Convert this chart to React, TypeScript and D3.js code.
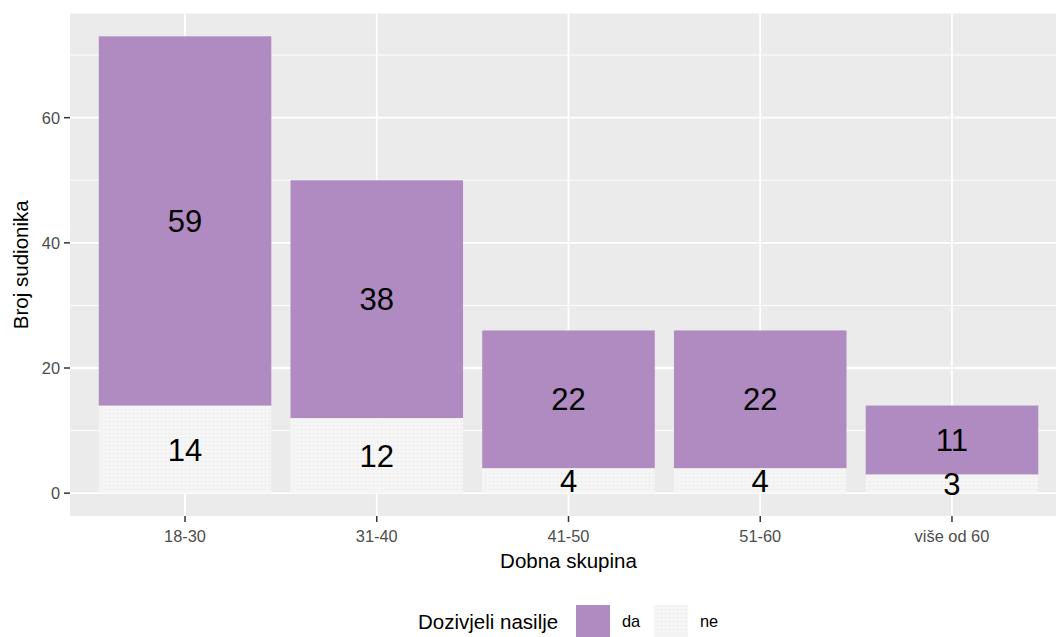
import React from "react";
import * as d3 from "d3";

const categories = ["18-30", "31-40", "41-50", "51-60", "više od 60"];
const daValues = [59, 38, 22, 22, 11];
const neValues = [14, 12, 4, 4, 3];
const yTicks = [0, 20, 40, 60];
const yMinor = [10, 30, 50, 70];
const legendTitle = "Dozivjeli nasilje";
const legendLabels = ["da", "ne"];
const xTitle = "Dobna skupina";
const yTitle = "Broj sudionika";

const W = 1056;
const H = 637;
const panel = { left: 70, right: 1067, top: 13.5, bottom: 516 };
const PURPLE = "#b08bc1";
const LIGHT = "#f5f5f5";
const FONT = "'Liberation Sans', Arial, sans-serif";

export default function App() {
  const totals = daValues.map((d, i) => d + neValues[i]);
  const maxT = d3.max(totals) as number;
  const pad = maxT * 0.05;
  const y = d3.scaleLinear().domain([-pad, maxT + pad]).range([panel.bottom, panel.top]);
  const step = (panel.right - panel.left) / (categories.length + 0.2);
  const xc = (i: number) => panel.left + step * (0.6 + i);
  const bw = step * 0.9;

  const stackData = categories.map((c, i) => ({ cat: c, ne: neValues[i], da: daValues[i] }));
  const series = d3.stack<any>().keys(["ne", "da"])(stackData);

  return (
    <div style={{ position: "absolute", left: 0, top: 0 }}>
      <svg width={W} height={H} style={{ display: "block", fontFamily: FONT }}>
        <defs>
          <pattern id="dots" width="4" height="4" patternUnits="userSpaceOnUse">
            <rect width="4" height="4" fill={LIGHT} />
            <rect x="1" y="1" width="1" height="1" fill="#e4e4e4" />
          </pattern>
        </defs>
        <rect x={0} y={0} width={W} height={H} fill="#fff" />
        <rect x={panel.left} y={panel.top} width={panel.right - panel.left} height={panel.bottom - panel.top} fill="#ebebeb" />
        {yMinor.map((t) => (
          <line key={"mn" + t} x1={panel.left} x2={panel.right} y1={y(t)} y2={y(t)} stroke="#fff" strokeWidth={0.9} />
        ))}
        {yTicks.map((t) => (
          <line key={"mj" + t} x1={panel.left} x2={panel.right} y1={y(t)} y2={y(t)} stroke="#fff" strokeWidth={1.8} />
        ))}
        {categories.map((c, i) => (
          <line key={"vx" + c} x1={xc(i)} x2={xc(i)} y1={panel.top} y2={panel.bottom} stroke="#fff" strokeWidth={1.8} />
        ))}
        {series.map((s) =>
          s.map((d, i) => (
            <rect
              key={s.key + i}
              x={xc(i) - bw / 2}
              width={bw}
              y={y(d[1])}
              height={y(d[0]) - y(d[1])}
              fill={s.key === "da" ? PURPLE : "url(#dots)"}
            />
          ))
        )}
        {series.map((s) =>
          s.map((d, i) => (
            <text
              key={"l" + s.key + i}
              x={xc(i)}
              y={y((d[0] + d[1]) / 2)}
              dy="0.36em"
              textAnchor="middle"
              fontSize={31}
              fill="#000"
            >
              {d[1] - d[0]}
            </text>
          ))
        )}
        {yTicks.map((t) => (
          <g key={"yt" + t}>
            <line x1={panel.left - 6} x2={panel.left} y1={y(t)} y2={y(t)} stroke="#333" strokeWidth={1.5} />
            <text x={panel.left - 10} y={y(t)} dy="0.36em" textAnchor="end" fontSize={16.4} fill="#4d4d4d">
              {t}
            </text>
          </g>
        ))}
        {categories.map((c, i) => (
          <g key={"xt" + c}>
            <line x1={xc(i)} x2={xc(i)} y1={panel.bottom} y2={panel.bottom + 6} stroke="#333" strokeWidth={1.5} />
            <text x={xc(i)} y={panel.bottom + 20} dy="0.36em" textAnchor="middle" fontSize={16.4} fill="#4d4d4d">
              {c}
            </text>
          </g>
        ))}
        <text x={568.5} y={561} dy="0.36em" textAnchor="middle" fontSize={20.5} fill="#000">
          {xTitle}
        </text>
        <text
          transform={`translate(21, ${(panel.top + panel.bottom) / 2}) rotate(-90)`}
          dy="0.36em"
          textAnchor="middle"
          fontSize={20.5}
          fill="#000"
        >
          {yTitle}
        </text>
        <text x={418} y={622} dy="0.36em" fontSize={20.5} fill="#000">
          {legendTitle}
        </text>
        <rect x={576} y={605} width={34} height={34} fill={PURPLE} />
        <text x={622} y={621} dy="0.36em" fontSize={16.4} fill="#000">
          {legendLabels[0]}
        </text>
        <rect x={654} y={605} width={34} height={34} fill="url(#dots)" />
        <text x={700} y={621} dy="0.36em" fontSize={16.4} fill="#000">
          {legendLabels[1]}
        </text>
      </svg>
    </div>
  );
}
